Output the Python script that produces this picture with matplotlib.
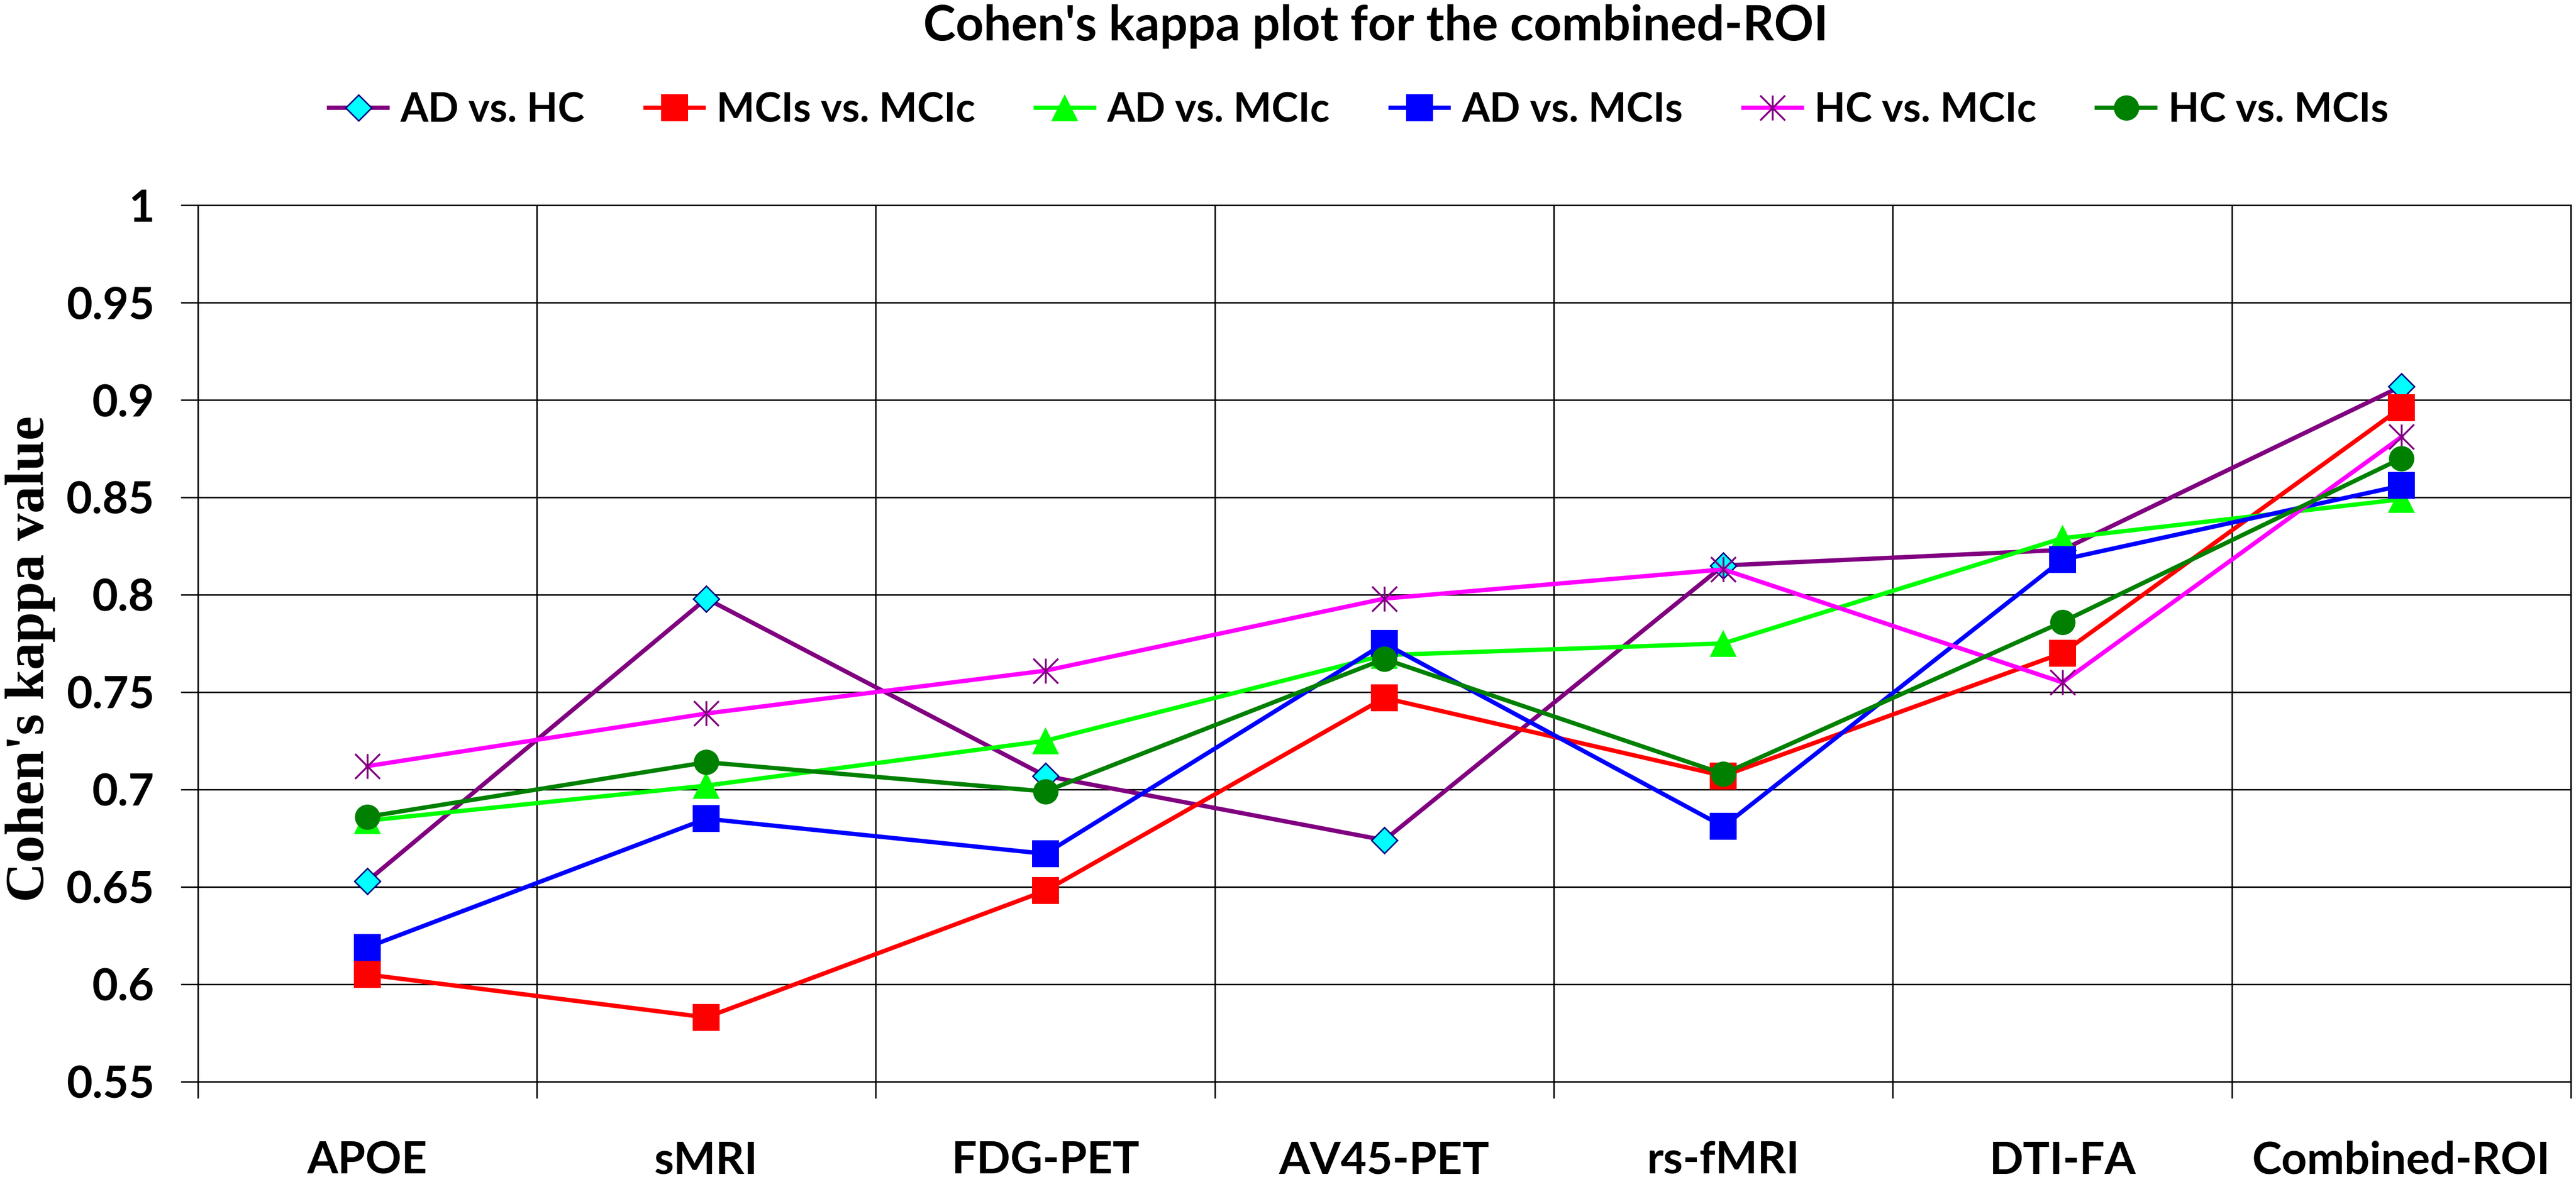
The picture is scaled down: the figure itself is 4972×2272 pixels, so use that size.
import numpy as np
import matplotlib
matplotlib.use("Agg")
import matplotlib.pyplot as plt
from matplotlib.path import Path
from matplotlib.lines import Line2D

# ---- data ----
categories = ["APOE", "sMRI", "FDG-PET", "AV45-PET", "rs-fMRI", "DTI-FA", "Combined-ROI"]
series_names = ["AD vs. HC", "MCIs vs. MCIc", "AD vs. MCIc", "AD vs. MCIs", "HC vs. MCIc", "HC vs. MCIs"]
ad_hc = [0.653, 0.798, 0.707, 0.674, 0.815, 0.823, 0.907]
mcis_mcic = [0.605, 0.583, 0.648, 0.747, 0.707, 0.770, 0.896]
ad_mcic = [0.684, 0.702, 0.725, 0.769, 0.775, 0.829, 0.849]
ad_mcis = [0.619, 0.685, 0.667, 0.775, 0.681, 0.818, 0.856]
hc_mcic = [0.712, 0.739, 0.761, 0.798, 0.813, 0.755, 0.881]
hc_mcis = [0.686, 0.714, 0.699, 0.767, 0.708, 0.786, 0.870]
yticks = [0.55, 0.6, 0.65, 0.7, 0.75, 0.8, 0.85, 0.9, 0.95, 1.0]
ytick_labels = ["0.55", "0.6", "0.65", "0.7", "0.75", "0.8", "0.85", "0.9", "0.95", "1"]

SANS = ["Lato", "DejaVu Sans"]
SERIF = ["Liberation Serif", "DejaVu Serif"]

star_path = Path([(0, -1), (0, 1), (-1, -1), (1, 1), (-1, 1), (1, -1)],
                 [Path.MOVETO, Path.LINETO, Path.MOVETO, Path.LINETO, Path.MOVETO, Path.LINETO])

styles = [
    dict(color="#800080", marker="D", ms=12.7, mfc="#00FFFF", mec="#000080", mew=1.0),
    dict(color="#FF0000", marker="s", ms=18.5, mfc="#FF0000", mec="#FF0000", mew=0),
    dict(color="#00FF00", marker="^", ms=19, mfc="#00FF00", mec="#00FF00", mew=0),
    dict(color="#0000FF", marker="s", ms=18.5, mfc="#0000FF", mec="#0000FF", mew=0),
    dict(color="#FF00FF", marker=star_path, ms=17.3, mfc="none", mec="#800080", mew=1.3),
    dict(color="#008000", marker="o", ms=17.6, mfc="#008000", mec="#008000", mew=0),
]
data = [ad_hc, mcis_mcic, ad_mcic, ad_mcis, hc_mcic, hc_mcis]

fig = plt.figure(figsize=(24.86, 11.36), dpi=200)
ax = fig.add_axes([0.0768, 0.081, 0.9212, 0.7447])

x = np.arange(1, len(categories) + 1)
handles = []
for name, vals, st in zip(series_names, data, styles):
    h, = ax.plot(x, vals, linewidth=3.0, label=name, **st)
    handles.append(h)

ax.set_xlim(0.5, len(categories) + 0.5)
ax.set_ylim(0.55, 1.0)
ax.set_yticks(yticks)
ax.set_yticklabels(ytick_labels)
ax.set_xticks(x)
ax.set_xticklabels(categories)
ax.set_xticks(np.arange(0.5, len(categories) + 1, 1), minor=True)

ax.grid(True, axis="y", which="major", color="black", linewidth=1.0)
ax.grid(True, axis="x", which="minor", color="black", linewidth=1.0)
ax.set_axisbelow(True)
for sp in ax.spines.values():
    sp.set_linewidth(1.0)
    sp.set_color("black")

ax.tick_params(axis="y", which="major", direction="out", length=12, width=1.0, pad=18)
ax.tick_params(axis="x", which="major", length=0, pad=41)
ax.tick_params(axis="x", which="minor", direction="out", length=11.5, width=1.0)
for lab in ax.get_yticklabels():
    lab.set_fontfamily(SANS)
    lab.set_fontweight("bold")
    lab.set_fontsize(31)
for lab in ax.get_xticklabels():
    lab.set_fontfamily(SANS)
    lab.set_fontweight("bold")
    lab.set_fontsize(31)

fig.text(0.002, 0.4401, "Cohen's kappa value", rotation=90, ha="left", va="center",
         fontsize=38, fontweight="bold", family=SERIF)
fig.text(0.534, 0.9657, "Cohen's kappa plot for the combined-ROI", ha="center", va="baseline",
         fontsize=34, fontweight="bold", family=SANS)

leg = fig.legend(handles, series_names, loc="center", bbox_to_anchor=(0.5275, 0.906), ncol=6,
                 frameon=False, handlelength=1.45, handletextpad=0.32, columnspacing=1.5,
                 borderpad=0, prop=dict(family=SANS, weight="bold", size=28))

fig.savefig("out.png", dpi=200)
